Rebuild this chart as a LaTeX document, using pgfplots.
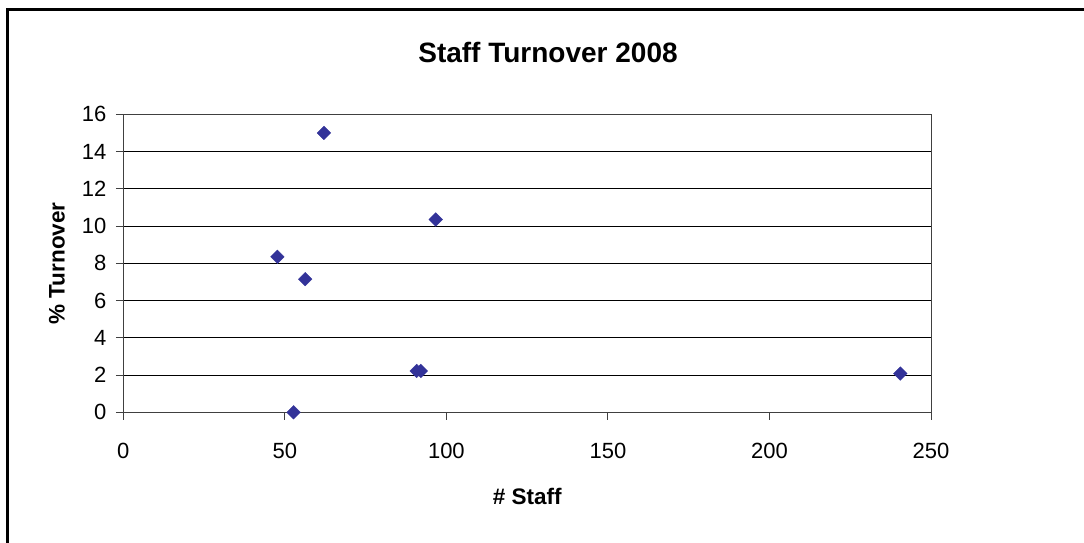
\documentclass[border=0pt]{standalone}
\usepackage{pgfplots}
\pgfplotsset{compat=1.18}
\usepackage{fontspec}
\setmainfont{Liberation Sans}
\definecolor{marknavy}{HTML}{333399}
\definecolor{borderdark}{HTML}{404040}

% staff count vs. percentage turnover
\pgfplotstableread{
staff  turnover
62.1   15.0
96.7   10.35
47.7   8.35
56.3   7.15
52.7   0.0
90.8   2.22
92.1   2.22
240.5  2.08
}\turnoverdata

\begin{document}
\begin{tikzpicture}
\useasboundingbox (0pt,0pt) rectangle (1084pt,-543pt);
\begin{scope}
  \clip (0pt,0pt) rectangle (1084pt,-543pt);
  \draw[line width=2.2pt] (7.5pt,-560pt) -- (7.5pt,-9.5pt) -- (1100pt,-9.5pt);
\end{scope}
\node[font=\fontsize{28}{32}\selectfont\bfseries] at (548pt,-52pt) {Staff Turnover 2008};
\begin{axis}[
  at={(123.3pt,-412.3pt)}, anchor=south west,
  scale only axis, width=807.7pt, height=298pt,
  xmin=0, xmax=250, ymin=0, ymax=16,
  xtick={0,50,...,250}, ytick={0,2,...,16},
  xtick pos=bottom, ytick pos=left,
  tick align=outside, major tick length=7.5pt,
  ymajorgrids, grid style={black, line width=1pt},
  axis line style={borderdark, line width=1pt},
  tick style={borderdark, line width=1pt},
  /pgf/number format/assume math mode=true,
  ticklabel style={font=\fontsize{22}{25}\selectfont},
  xticklabel style={anchor=north, yshift=-20pt},
  yticklabel style={anchor=east, xshift=-6pt},
  xlabel={\# Staff}, ylabel={\% Turnover},
  label style={font=\fontsize{22.5}{26}\selectfont\bfseries},
  xlabel style={at={(axis description cs:0.5,-0.284)}, anchor=center},
  ylabel style={at={(axis description cs:-0.0821,0.5)}, anchor=center},
]
\addplot[only marks, mark=square*, mark size=4.8pt,
  mark options={rotate=45, fill=marknavy, draw=marknavy}]
  table[x=staff, y=turnover] {\turnoverdata};
\end{axis}
\end{tikzpicture}
\end{document}
